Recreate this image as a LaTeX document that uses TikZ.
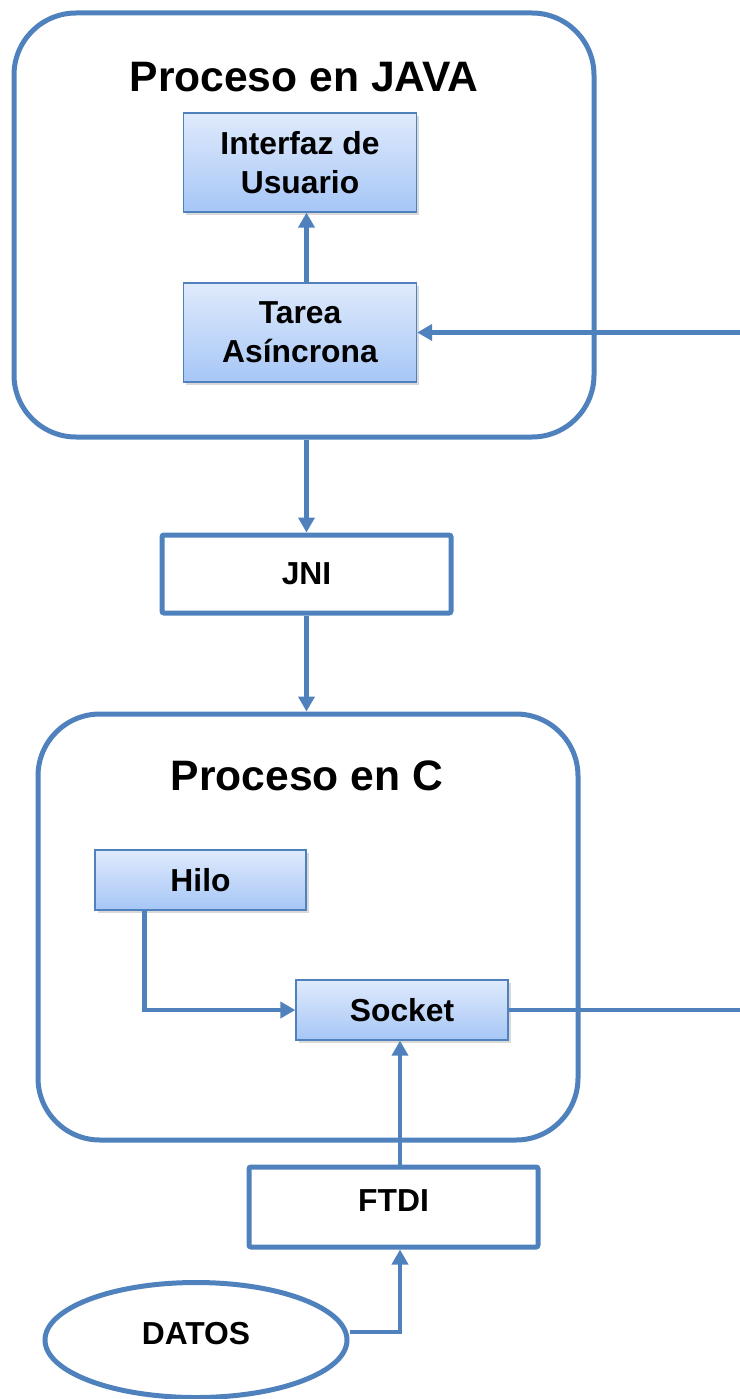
\documentclass[tikz,border=0pt]{standalone}
\usepackage{fontspec}
\setmainfont{Liberation Sans}
\usetikzlibrary{arrows.meta, shapes.geometric, shadows}
\definecolor{linea}{RGB}{79,129,189}
\definecolor{grtop}{RGB}{223,234,252}
\definecolor{grbot}{RGB}{166,198,246}

\begin{document}
\begin{tikzpicture}[x=1pt, y=-1pt,
  every node/.style = {font=\bfseries\fontsize{31.8}{39}\selectfont, align=center, inner sep=0pt},
  titulo/.style = {font=\bfseries\fontsize{42.6}{50}\selectfont, anchor=base},
  proceso/.style = {draw=linea, line width=5pt, rounded corners=62pt},
  bloque/.style = {draw=linea, line width=1.3pt, top color=grtop, bottom color=grbot,
    drop shadow={shadow xshift=2.5pt, shadow yshift=-3pt, opacity=0.3}},
  caja/.style = {draw=linea, line width=5pt, fill=white, rounded corners=2pt},
  flecha/.style = {draw=linea, line width=4.8pt, ->},
  >={Triangle[length=15pt, width=16pt]}
]
  \useasboundingbox (0,0) rectangle (739,1399);

  % proceso java
  \node[proceso, minimum width=580pt, minimum height=424pt] (java) at (304,225) {};
  \node[titulo] (tjava) at (304,92) {Proceso en JAVA};
  \node[bloque, minimum width=233pt, minimum height=99pt] (interfaz) at (300,162.5) {Interfaz de\\Usuario};
  \node[bloque, minimum width=233pt, minimum height=99pt] (tarea) at (300,332.5) {Tarea\\Asíncrona};

  \node[caja, minimum width=289pt, minimum height=78pt] (jni) at (306.5,574) {JNI};

  % proceso c
  \node[proceso, minimum width=540pt, minimum height=426pt] (procc) at (308,927) {};
  \node[titulo] (tc) at (307,790) {Proceso en C};
  \node[bloque, minimum width=211pt, minimum height=60pt] (hilo) at (200.5,880) {Hilo};
  \node[bloque, minimum width=212pt, minimum height=60pt] (socket) at (402,1010) {Socket};

  \node[caja, minimum width=289pt, minimum height=80pt, text depth=12pt] (ftdi) at (393.5,1207) {FTDI};
  \node[ellipse, draw=linea, line width=5pt, minimum width=302pt, minimum height=115pt,
    text depth=14pt] (datos) at (196,1340) {DATOS};

  \coordinate (borde) at (746,0);
  \coordinate (bajada) at (400,0);

  \draw[flecha] (tarea.north -| jni) -- (interfaz.south -| jni);
  \draw[flecha] (socket.east) -- (socket.east -| borde) -- (tarea.east -| borde) -- (tarea.east);
  \draw[flecha] (java.south -| jni) -- (jni.north);
  \draw[flecha] (jni.south) -- (procc.north -| jni);
  \draw[flecha] ([xshift=50pt]hilo.south west) |- (socket.west);
  \draw[flecha] (ftdi.north -| bajada) -- (socket.south -| bajada);
  \draw[flecha] ([yshift=8pt]datos.east) -| (ftdi.south -| bajada);
\end{tikzpicture}
\end{document}
